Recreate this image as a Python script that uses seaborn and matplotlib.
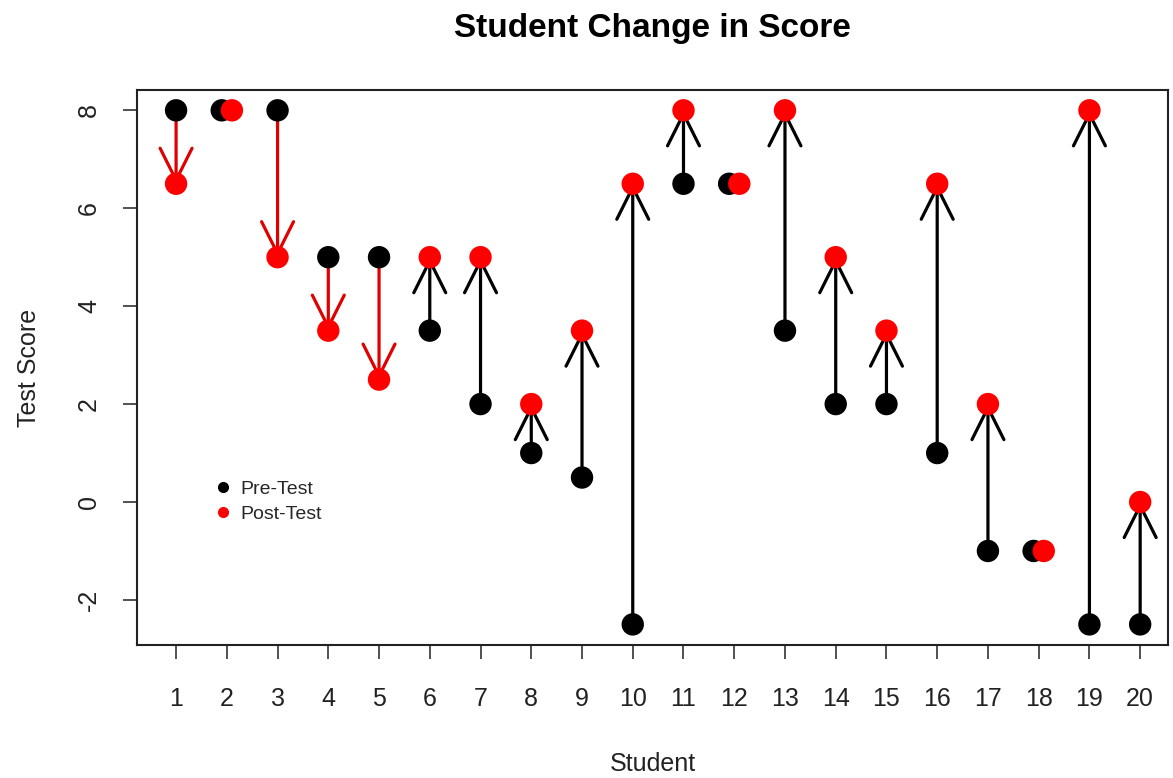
import numpy as np
import pandas as pd
import seaborn as sns
import matplotlib.pyplot as plt
from matplotlib.lines import Line2D

plt.switch_backend('agg')

# data
students = np.arange(1, 21)
pre_test = [8, 8, 8, 5, 5, 3.5, 2, 1, 0.5, -2.5, 6.5, 6.5, 3.5, 2, 2, 1, -1, -1, -2.5, -2.5]
post_test = [6.5, 8, 5, 3.5, 2.5, 5, 5, 2, 3.5, 6.5, 8, 6.5, 8, 5, 3.5, 6.5, 2, -1, 8, 0]

sns.set_style('white')
plt.rcParams['font.family'] = ['Liberation Sans', 'DejaVu Sans']
plt.rcParams['axes.unicode_minus'] = False

pre = np.array(pre_test, dtype=float)
post = np.array(post_test, dtype=float)
same = pre == post
# nudge unchanged students so both points show
pre_x = students - np.where(same, 0.1, 0.0)
post_x = students + np.where(same, 0.1, 0.0)

df = pd.DataFrame({
    'x': np.concatenate([pre_x, post_x]),
    'score': np.concatenate([pre, post]),
    'test': ['Pre-Test'] * len(pre) + ['Post-Test'] * len(post),
})

fig = plt.figure(figsize=(11.73, 7.78), dpi=100)
ax = fig.add_axes([0.1168, 0.171, 0.879, 0.713])

# arrows from pre to post
for x, a, b in zip(students, pre, post):
    if a == b:
        continue
    col = 'black' if b > a else '#e00000'
    ax.annotate('', xy=(x, b), xytext=(x, a),
                arrowprops=dict(arrowstyle='->,head_length=2.3,head_width=1.15',
                                mutation_scale=10, lw=2.3, color=col,
                                shrinkA=0, shrinkB=0),
                zorder=2)

sns.scatterplot(data=df, x='x', y='score', hue='test',
                palette={'Pre-Test': 'black', 'Post-Test': '#ff0000'},
                s=260, marker='o', linewidth=0, legend=False, ax=ax, zorder=3)

ax.set_xlim(0.23, 20.55)
ax.set_ylim(-2.92, 8.41)
ax.set_xticks(students)
ax.set_yticks([-2, 0, 2, 4, 6, 8])
ax.tick_params(axis='x', pad=20)
ax.tick_params(axis='y', pad=16)
ax.tick_params(axis='both', which='major', direction='out', length=10, width=1.2,
               labelsize=18, color='#333333', labelcolor='#222222',
               bottom=True, left=True)
for lab in ax.get_yticklabels():
    lab.set_rotation(90)
    lab.set_va('center')
for sp in ax.spines.values():
    sp.set_linewidth(1.5)
    sp.set_color('#222222')

ax.set_xlabel('Student', fontsize=18, color='#222222', labelpad=30)
ax.set_ylabel('Test Score', fontsize=18, color='#222222', labelpad=26)
ax.set_title('Student Change in Score', fontsize=24, fontweight='bold',
             color='black', pad=38)

handles = [Line2D([], [], marker='o', color='black', linestyle='', markersize=7),
           Line2D([], [], marker='o', color='#ff0000', linestyle='', markersize=7)]
ax.legend(handles, ['Pre-Test', 'Post-Test'], loc='upper left',
          bbox_to_anchor=(0.055, 0.328), frameon=False, fontsize=14,
          handletextpad=0.3, labelspacing=0.35, handlelength=1.2)

plt.savefig('out.png', dpi=100)
plt.close()
